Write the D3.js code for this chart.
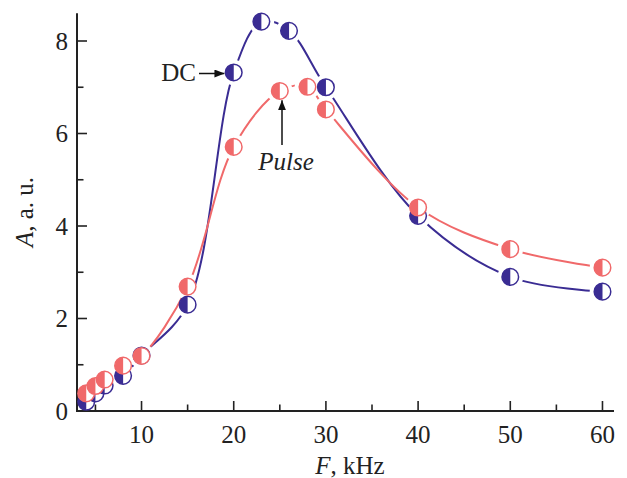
<!DOCTYPE html>
<html><head><meta charset="utf-8">
<script src="https://cdn.jsdelivr.net/npm/d3@7"></script>
<style>
html,body{margin:0;padding:0;background:#fff;}
svg{display:block;}
text{font-family:"Liberation Serif","Times New Roman",serif;fill:#222;}
</style></head>
<body>
<svg id="chart" width="627" height="478"></svg>
<script>
// ---- data ----
const dcF     = [4, 5, 6, 8, 10, 15, 20, 23, 26, 30, 40, 50, 60];
const dcA     = [0.2, 0.38, 0.55, 0.76, 1.2, 2.3, 7.32, 8.42, 8.22, 7.0, 4.22, 2.9, 2.58];
const pulseF  = [4, 5, 6, 8, 10, 15, 20, 25, 28, 30, 40, 50, 60];
const pulseA  = [0.38, 0.54, 0.68, 0.98, 1.19, 2.69, 5.71, 6.92, 7.01, 6.52, 4.4, 3.5, 3.1];
const xMajor  = [10, 20, 30, 40, 50, 60];
const xMinor  = [5, 15, 25, 35, 45, 55];
const yMajor  = [0, 2, 4, 6, 8];
const yMinor  = [1, 3, 5, 7];

const blue = "#3a2c93", pink = "#f0696a", axisCol = "#222";
const svg = d3.select("#chart");
const x = d3.scaleLinear().domain([3, 61.25]).range([77, 614]);
const y = d3.scaleLinear().domain([0, 8.6]).range([411, 13.25]);
const R = 8.3;

// axes
const g = svg.append("g");
g.append("line").attr("x1", x(3)).attr("x2", x(3)).attr("y1", y(8.6)).attr("y2", y(0)+1)
  .attr("stroke", axisCol).attr("stroke-width", 2);
g.append("line").attr("x1", x(3)-1).attr("x2", x(61.25)).attr("y1", y(0)).attr("y2", y(0))
  .attr("stroke", axisCol).attr("stroke-width", 2);
xMajor.forEach(v => {
  g.append("line").attr("x1", x(v)).attr("x2", x(v)).attr("y1", y(0)).attr("y2", y(0)-10)
    .attr("stroke", axisCol).attr("stroke-width", 1.6);
  g.append("text").attr("x", x(v)).attr("y", 443).attr("text-anchor", "middle")
    .attr("font-size", 25).text(v);
});
xMinor.forEach(v => {
  g.append("line").attr("x1", x(v)).attr("x2", x(v)).attr("y1", y(0)).attr("y2", y(0)-6.5)
    .attr("stroke", axisCol).attr("stroke-width", 1.6);
});
yMajor.forEach(v => {
  if (v > 0) g.append("line").attr("x1", x(3)).attr("x2", x(3)+10).attr("y1", y(v)).attr("y2", y(v))
    .attr("stroke", axisCol).attr("stroke-width", 1.6);
  g.append("text").attr("x", 68).attr("y", y(v)+8.5).attr("text-anchor", "end")
    .attr("font-size", 25).text(v);
});
yMinor.forEach(v => {
  g.append("line").attr("x1", x(3)).attr("x2", x(3)+6.5).attr("y1", y(v)).attr("y2", y(v))
    .attr("stroke", axisCol).attr("stroke-width", 1.6);
});
// axis titles
const yt = g.append("text").attr("transform", "translate(33,212) rotate(-90)")
  .attr("text-anchor", "middle").attr("font-size", 25);
yt.append("tspan").attr("font-style", "italic").text("A");
yt.append("tspan").text(", a. u.");
const xt = g.append("text").attr("x", 350).attr("y", 474).attr("text-anchor", "middle").attr("font-size", 25);
xt.append("tspan").attr("font-style", "italic").text("F");
xt.append("tspan").text(", kHz");

// series
const series = [
  {name: "dc", F: dcF, A: dcA, color: blue},
  {name: "pulse", F: pulseF, A: pulseA, color: pink}
];
const defs = svg.append("defs");
const line = d3.line().x(d => x(d[0])).y(d => y(d[1])).curve(d3.curveCatmullRom.alpha(0.5));

series.forEach(s => {
  const pts = s.F.map((f, i) => [f, s.A[i]]);
  const m = defs.append("mask").attr("id", "mask-" + s.name).attr("maskUnits", "userSpaceOnUse")
    .attr("x", 0).attr("y", 0).attr("width", 627).attr("height", 478);
  m.append("rect").attr("width", 627).attr("height", 478).attr("fill", "#fff");
  pts.forEach(p => m.append("circle").attr("cx", x(p[0])).attr("cy", y(p[1])).attr("r", R + 4.5).attr("fill", "#000"));
  svg.append("path").datum(pts).attr("d", line).attr("fill", "none")
    .attr("stroke", s.color).attr("stroke-width", 2).attr("mask", "url(#mask-" + s.name + ")");
});
series.forEach(s => {
  const pts = s.F.map((f, i) => [f, s.A[i]]);
  const mg = svg.append("g").selectAll("g").data(pts).join("g")
    .attr("transform", d => `translate(${x(d[0])},${y(d[1])})`);
  mg.append("circle").attr("r", R).attr("fill", "#fff").attr("stroke", s.color).attr("stroke-width", 1.5);
  mg.append("path").attr("d", `M0,${-R} A${R},${R} 0 0 0 0,${R} Z`).attr("fill", s.color);
});

// annotations
defs.append("marker").attr("id", "arr").attr("viewBox", "0 0 10 8").attr("refX", 10).attr("refY", 4)
  .attr("markerWidth", 10).attr("markerHeight", 8).attr("markerUnits", "userSpaceOnUse").attr("orient", "auto")
  .append("path").attr("d", "M0,0 L10,4 L0,8 Z").attr("fill", "#111");
svg.append("text").attr("x", 196).attr("y", 81).attr("text-anchor", "end").attr("font-size", 25).text("DC");
svg.append("line").attr("x1", 199).attr("x2", x(20) - R - 1).attr("y1", 73.5).attr("y2", 73.5)
  .attr("stroke", "#111").attr("stroke-width", 1.5).attr("marker-end", "url(#arr)");
svg.append("text").attr("x", 286).attr("y", 170).attr("text-anchor", "middle").attr("font-size", 25)
  .attr("font-style", "italic").text("Pulse");
svg.append("line").attr("x1", 282).attr("x2", 282).attr("y1", 145).attr("y2", y(6.92) + R + 1)
  .attr("stroke", "#111").attr("stroke-width", 1.5).attr("marker-end", "url(#arr)");
</script>
</body></html>
